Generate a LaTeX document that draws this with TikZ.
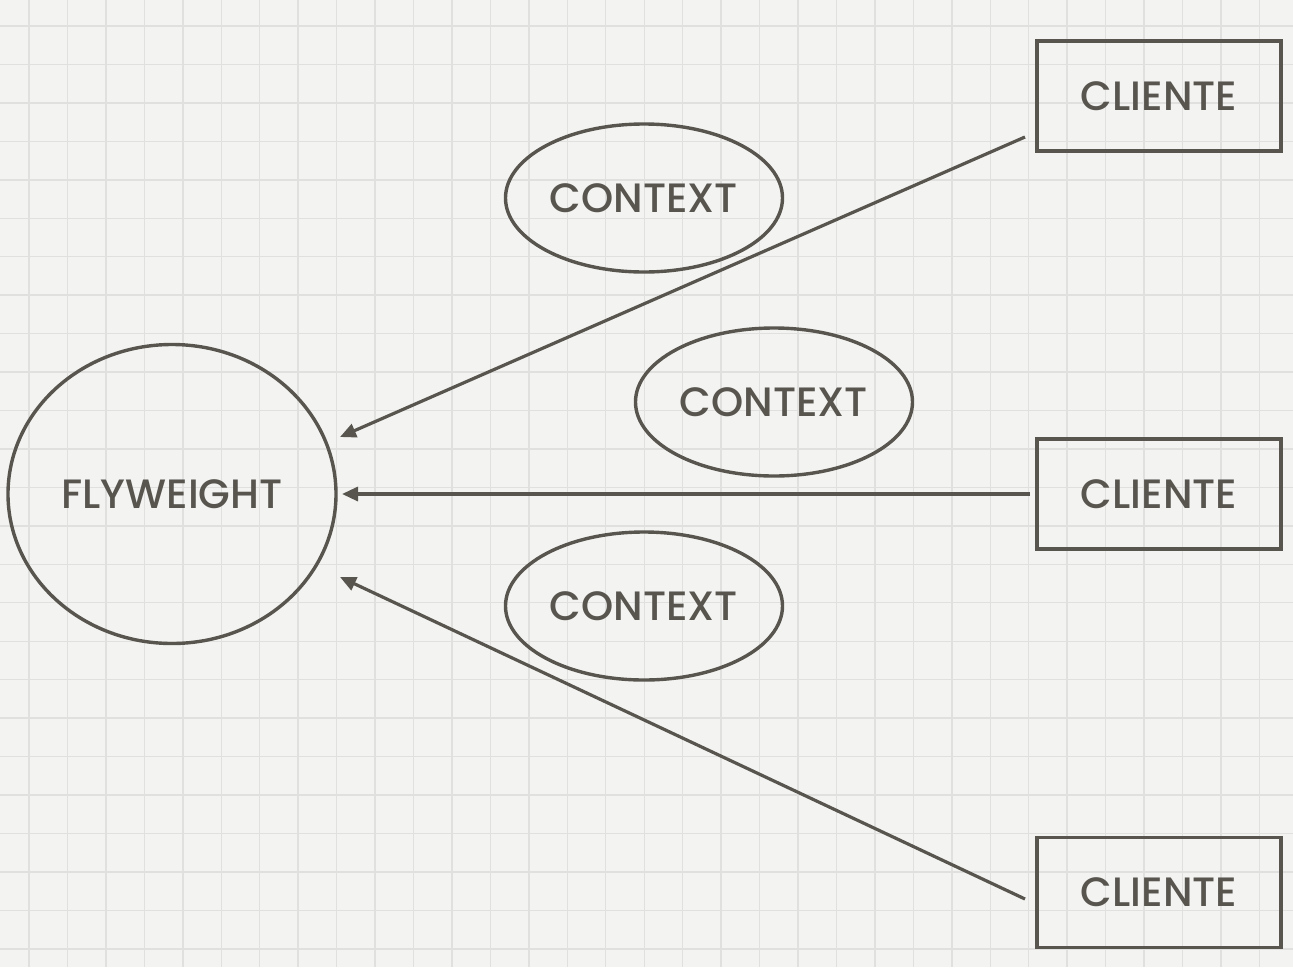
\documentclass[tikz,border=0pt]{standalone}
\usepackage{fontspec}
\setmainfont{Poppins Medium}
\usetikzlibrary{shapes.geometric,arrows.meta}
\definecolor{paper}{HTML}{F3F3F1}
\definecolor{gridc}{HTML}{E0E0DE}
\definecolor{ink}{HTML}{58554F}
\tikzset{
  gridline/.style={draw=gridc,line width=1.4pt},
  ell/.style={ellipse,draw=ink,line width=3.4pt,inner sep=0pt,text=ink,font=\fontsize{41}{45}\selectfont},
  clientbox/.style={rectangle,draw=ink,line width=3.4pt,minimum width=244pt,minimum height=110pt,inner sep=0pt,text=ink,font=\fontsize{41}{45}\selectfont},
  arr/.style={draw=ink,line width=3.2pt,-{Triangle[length=16pt,width=14pt]}}
}
\begin{document}
\begin{tikzpicture}[x=1pt,y=-1pt]
\fill[paper] (0,0) rectangle (1293,967);
\useasboundingbox (0,0) rectangle (1293,967);
\foreach \i in {0,...,33} \draw[gridline] ({29+38.45*\i},0) -- ++(0,967);
\foreach \j in {0,...,24} \draw[gridline] (0,{26+38.45*\j}) -- ++(1293,0);

\node[ell,minimum width=328pt,minimum height=299pt] (fw) at (172,494) {FLYWEIGHT};
\node[ell,minimum width=277pt,minimum height=148pt] (ctx1) at (644,198) {CONTEXT};
\node[ell,minimum width=277pt,minimum height=148pt] (ctx2) at (774,402) {CONTEXT};
\node[ell,minimum width=277pt,minimum height=148pt] (ctx3) at (644,606) {CONTEXT};

\node[clientbox] (c1) at (1159,96) {CLIENTE};
\node[clientbox] (c2) at (1159,494) {CLIENTE};
\node[clientbox] (c3) at (1159,892.5) {CLIENTE};

\coordinate (s1) at (1025,137);
\coordinate (e1) at (340,437);
\coordinate (s2) at (1030,494);
\coordinate (e2) at (342,494);
\coordinate (s3) at (1025,899);
\coordinate (e3) at (340,577);

\draw[arr] (s1) -- (e1);
\draw[arr] (s2) -- (e2);
\draw[arr] (s3) -- (e3);
\end{tikzpicture}
\end{document}
